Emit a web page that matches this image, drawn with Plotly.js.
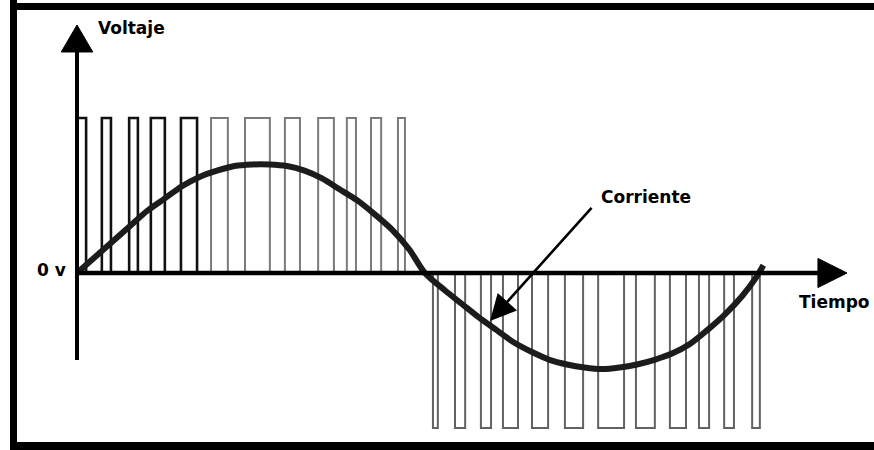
<!DOCTYPE html>
<html>
<head>
<meta charset="utf-8">
<script src="https://cdn.plot.ly/plotly-3.0.1.min.js"></script>
<style>
  html, body { margin: 0; padding: 0; background: #ffffff; }
  #chart { width: 874px; height: 450px; }
</style>
</head>
<body>
<div id="chart"></div>
<script>
// ---- Data (time in ms, voltage / current in per-unit) ----
// Positive half-cycle PWM pulses: rise and fall times
const posRise = [0.00, 0.71, 1.49, 2.11, 2.97, 3.83, 4.80, 5.94, 6.89, 7.71, 8.40, 9.17];
const posFall = [0.26, 0.97, 1.74, 2.51, 3.43, 4.31, 5.51, 6.37, 7.34, 7.97, 8.69, 9.37];
// Negative half-cycle PWM pulses: start and end times
const negRise = [10.17, 10.80, 11.54, 12.17, 13.00, 13.94, 14.89, 15.97, 16.94, 17.77, 18.49, 19.29];
const negFall = [10.31, 11.09, 11.83, 12.60, 13.46, 14.46, 15.63, 16.51, 17.40, 18.06, 18.77, 19.51];
const pulseLevel = 1.0;          // +Vdc / -Vdc

// Current ("Corriente") read at sample times
const currentT = [0.0, 0.5, 1.0, 1.5, 2.0, 2.5, 3.0, 3.5, 4.0, 4.5, 5.0, 5.5, 6.0, 6.5, 7.0, 7.5, 8.0, 8.5, 9.0, 9.5, 9.94,
                  10.5, 11.0, 11.5, 12.0, 12.5, 13.0, 13.5, 14.0, 14.5, 15.0, 15.5, 16.0, 16.5, 17.0, 17.5, 18.0, 18.5, 19.0, 19.4, 19.61];
const currentI = [0.00, 0.10, 0.20, 0.30, 0.40, 0.48, 0.56, 0.62, 0.66, 0.69, 0.70, 0.70, 0.69, 0.66, 0.61, 0.54, 0.47, 0.38, 0.28, 0.15, 0.00,
                  -0.11, -0.20, -0.29, -0.37, -0.45, -0.51, -0.56, -0.59, -0.61, -0.62, -0.61, -0.59, -0.56, -0.52, -0.46, -0.37, -0.27, -0.15, -0.03, 0.05];

// Labels
const labelVoltage = "Voltaje";
const labelTime = "Tiempo";
const labelZero = "0 v";
const labelCurrent = "Corriente";
// Point on the current curve that the "Corriente" arrow indicates, and its tail
const arrowTip = [11.80, -0.31];
const arrowTail = [14.74, 0.43];

// ---- Build pulse polylines ----
function pulsePath(rise, fall, level, from, to) {
  const x = [], y = [];
  for (let i = from; i < to; i++) {
    x.push(rise[i], rise[i], fall[i], fall[i]);
    y.push(0, level, level, 0);
    x.push(null); y.push(null);
  }
  return {x, y};
}
const posDark = pulsePath(posRise, posFall, pulseLevel, 0, 5);
const posGray = pulsePath(posRise, posFall, pulseLevel, 5, posRise.length);
const negGray = pulsePath(negRise, negFall, -pulseLevel, 0, negRise.length);

const traces = [
  {x: posGray.x, y: posGray.y, mode: 'lines', line: {color: '#7a7a7a', width: 2}, hoverinfo: 'skip', showlegend: false},
  {x: negGray.x, y: negGray.y, mode: 'lines', line: {color: '#626262', width: 2}, hoverinfo: 'skip', showlegend: false},
  {x: posDark.x, y: posDark.y, mode: 'lines', line: {color: '#111111', width: 2.6}, hoverinfo: 'skip', showlegend: false},
  {x: currentT, y: currentI, mode: 'lines', line: {color: '#1c1c1c', width: 6, shape: 'spline', smoothing: 0.8}, hoverinfo: 'skip', showlegend: false}
];

// ---- Axis geometry (data units) ----
const xMin = -2.2, xMax = 22.7714;
const yMin = -1.1419, yMax = 1.7613;
const vAxisBottom = -0.561, vArrowBase = 1.426, vArrowTip = 1.60, vArrowHalf = 0.45;
const hArrowBase = 21.17, hArrowTip = 22.0, hArrowHalf = 0.094;

const shapes = [
  // vertical axis
  {type: 'line', xref: 'x', yref: 'y', x0: 0, x1: 0, y0: vAxisBottom, y1: vArrowBase + 0.02, line: {color: '#000', width: 4}, layer: 'above'},
  {type: 'path', xref: 'x', yref: 'y', path: `M ${-vArrowHalf} ${vArrowBase} L ${vArrowHalf} ${vArrowBase} L 0 ${vArrowTip} Z`,
   fillcolor: '#000', line: {color: '#000', width: 1}, layer: 'above'},
  // horizontal axis
  {type: 'line', xref: 'x', yref: 'y', x0: 0, x1: hArrowBase + 0.05, y0: 0, y1: 0, line: {color: '#000', width: 4.5}, layer: 'above'},
  {type: 'path', xref: 'x', yref: 'y', path: `M ${hArrowBase} ${-hArrowHalf} L ${hArrowBase} ${hArrowHalf} L ${hArrowTip} 0 Z`,
   fillcolor: '#000', line: {color: '#000', width: 1}, layer: 'above'},
  // picture frame
  {type: 'rect', xref: 'paper', yref: 'paper', x0: 10/874, x1: 17/874, y0: 0, y1: 1, fillcolor: '#000', line: {width: 0}, layer: 'above'},
  {type: 'rect', xref: 'paper', yref: 'paper', x0: 10/874, x1: 1, y0: 1 - 10/450, y1: 1 - 3/450, fillcolor: '#000', line: {width: 0}, layer: 'above'},
  {type: 'rect', xref: 'paper', yref: 'paper', x0: 10/874, x1: 1, y0: 0, y1: 8/450, fillcolor: '#000', line: {width: 0}, layer: 'above'}
];

const labelFont = {family: 'DejaVu Sans', size: 17, color: '#000', weight: 'bold'};
const annotations = [
  {x: 0.55, y: 1.58, xref: 'x', yref: 'y', text: '<b>' + labelVoltage + '</b>', showarrow: false, xanchor: 'left', yanchor: 'middle', font: labelFont},
  {x: -0.26, y: 0.02, xref: 'x', yref: 'y', text: '<b>' + labelZero + '</b>', showarrow: false, xanchor: 'right', yanchor: 'middle', font: labelFont},
  {x: 20.56, y: -0.19, xref: 'x', yref: 'y', text: '<b>' + labelTime + '</b>', showarrow: false, xanchor: 'left', yanchor: 'middle', font: labelFont},
  {x: 14.9, y: 0.49, xref: 'x', yref: 'y', text: '<b>' + labelCurrent + '</b>', showarrow: false, xanchor: 'left', yanchor: 'middle', font: labelFont},
  {x: arrowTip[0], y: arrowTip[1], xref: 'x', yref: 'y',
   axref: 'x', ayref: 'y', ax: arrowTail[0], ay: arrowTail[1], text: '', showarrow: true,
   arrowhead: 2, arrowsize: 2, arrowwidth: 2.6, arrowcolor: '#000', standoff: 0}
];

const layout = {
  width: 874, height: 450,
  margin: {l: 0, r: 0, t: 0, b: 0},
  paper_bgcolor: '#ffffff', plot_bgcolor: '#ffffff',
  xaxis: {range: [xMin, xMax], visible: false, fixedrange: true},
  yaxis: {range: [yMin, yMax], visible: false, fixedrange: true},
  shapes: shapes,
  annotations: annotations,
  showlegend: false
};

Plotly.newPlot('chart', traces, layout, {staticPlot: true, displayModeBar: false});
</script>
</body>
</html>
